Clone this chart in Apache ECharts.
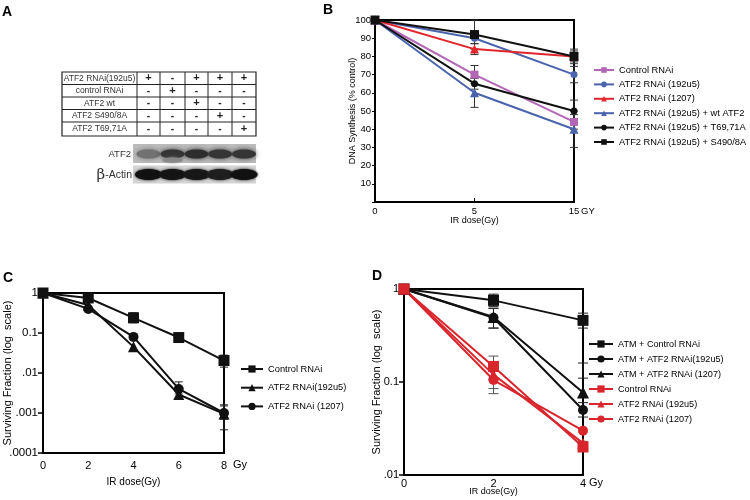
<!DOCTYPE html>
<html><head><meta charset="utf-8">
<script src="https://cdn.jsdelivr.net/npm/echarts@6/dist/echarts.min.js"></script>
<style>html,body{margin:0;padding:0;background:#fff;} .c{position:absolute;left:0;top:0;width:750px;height:500px;}</style>
</head><body>
<div id="pa" class="c"></div><div id="pb" class="c"></div><div id="pc" class="c"></div><div id="pd" class="c"></div>
<script>
// ---------- Panel A data ----------
const rowsA = ['ATF2 RNAi(192u5)', 'control RNAi', 'ATF2 wt', 'ATF2 S490/8A', 'ATF2 T69,71A'];
const signsA = [
  ['+','-','+','+','+'],
  ['-','+','-','-','-'],
  ['-','-','+','-','-'],
  ['-','-','-','+','-'],
  ['-','-','-','-','+']
];
const atf2Band = [0.45, 0.85, 0.9, 0.85, 0.85];
const actinBand = [0.95, 0.92, 0.9, 0.85, 0.95];

// ---------- Panel B data ----------
const xB = ['0', '5', '15'];
const bNames = ['Control RNAi', 'ATF2 RNAi (192u5)', 'ATF2 RNAi (1207)', 'ATF2 RNAi (192u5) + wt ATF2', 'ATF2 RNAi (192u5) + T69,71A', 'ATF2 RNAi (192u5) + S490/8A'];
const bControl = [100, 70, 44];
const b192u5 = [100, 90, 70];
const b1207 = [100, 84, 80];
const bWt = [100, 60, 40];
const bT69 = [100, 65, 50];
const bS490 = [100, 92, 80];
const bErrControl = [null, 5, 4];
const bErr192u5 = [null, 3, 4.5];
const bErr1207 = [null, 3, 3];
const bErrWt = [null, 8, 10];
const bErrT69 = [null, 3, 6];
const bErrS490 = [null, 8, 4];

// ---------- Panel C data ----------
const xC = [0, 2, 4, 6, 8];
const cNames = ['Control RNAi', 'ATF2 RNAi(192u5)', 'ATF2 RNAi (1207)'];
const cControl = [1, 0.75, 0.24, 0.077, 0.0205];
const c192u5 = [1, 0.5, 0.045, 0.0029, 0.00095];
const c1207 = [1, 0.4, 0.08, 0.004, 0.001];
const cLoControl = [null, 0.65, 0.18, 0.065, 0.014];
const cHiControl = [null, 0.85, 0.32, 0.09, 0.028];
const cLo192u5 = [null, null, null, 0.0022, 0.00038];
const cHi192u5 = [null, null, null, 0.0035, 0.0016];
const cLo1207 = [null, null, null, 0.003, 0.0007];
const cHi1207 = [null, null, null, 0.006, 0.0015];
const cTickLabels = {1: '1', 0.1: '0.1', 0.01: '.01', 0.001: '.001', 0.0001: '.0001'};

// ---------- Panel D data ----------
const xD = [0, 2, 4];
const dNames = ['ATM + Control RNAi', 'ATM + ATF2 RNAi(192u5)', 'ATM + ATF2 RNAi (1207)', 'Control RNAi', 'ATF2 RNAi (192u5)', 'ATF2 RNAi (1207)'];
const dAtmControl = [1, 0.755, 0.46];
const dAtm192u5 = [1, 0.49, 0.05];
const dAtm1207 = [1, 0.5, 0.077];
const dControl = [1, 0.147, 0.02];
const d192u5 = [1, 0.12, 0.022];
const d1207 = [1, 0.105, 0.03];
const dLoAtmControl = [null, 0.65, 0.38];
const dHiAtmControl = [null, 0.88, 0.55];
const dLoAtm192u5 = [null, 0.38, 0.042];
const dHiAtm192u5 = [null, 0.62, 0.06];
const dLoAtm1207 = [null, 0.38, 0.11];
const dHiAtm1207 = [null, 0.62, 0.16];
const dLoControl = [null, 0.11, 0.018];
const dHiControl = [null, 0.19, 0.023];
const dLo192u5 = [null, 0.085, null];
const dHi192u5 = [null, 0.14, null];
const dLo1207 = [null, 0.075, null];
const dHi1207 = [null, 0.13, null];
const dTickLabels = {1: '1', 0.1: '0.1', 0.01: '.01'};

const FONT = '"Liberation Sans", Arial, sans-serif';
const MAGENTA = '#b466b6', BLUE = '#4a63ad', RED = '#e0252b', BLACK = '#111';

function errBars(xs, lo, hi, color, cap) {
  const data = [];
  xs.forEach((x, i) => { if (lo[i] != null) data.push([x, lo[i], hi[i]]); });
  return {
    type: 'custom', silent: true, z: 1, encode: {x: 0, y: [1, 2]}, data,
    renderItem(params, api) {
      const a = api.coord([api.value(0), api.value(1)]);
      const b = api.coord([api.value(0), api.value(2)]);
      const s = {stroke: color, lineWidth: 1};
      return {type: 'group', children: [
        {type: 'line', shape: {x1: a[0], y1: a[1], x2: b[0], y2: b[1]}, style: s},
        {type: 'line', shape: {x1: a[0] - cap, y1: a[1], x2: a[0] + cap, y2: a[1]}, style: s},
        {type: 'line', shape: {x1: b[0] - cap, y1: b[1], x2: b[0] + cap, y2: b[1]}, style: s}
      ]};
    }
  };
}
function lineS(name, xs, ys, color, symbol, size) {
  return {
    type: 'line', name, data: xs.map((x, i) => [x, ys[i]]), z: 3,
    symbol, symbolSize: size, showSymbol: true,
    itemStyle: {color, borderWidth: 0}, lineStyle: {color, width: 2}, animation: false
  };
}
function letter(t, l, tp) {
  return {type: 'text', left: l, top: tp, style: {text: t, fontFamily: FONT, fontWeight: 'bold', fontSize: 14, fill: '#000'}};
}

// ---------- Panel A (graphic) ----------
const colX = [62, 137, 160, 185, 208, 232, 256];
const rowY = [72, 84.5, 97, 109.5, 122, 136];
const gA = [letter('A', 2, 5)];
gA.push({type: 'rect', shape: {x: colX[0], y: rowY[0], width: colX[6] - colX[0], height: rowY[5] - rowY[0]}, style: {fill: 'none', stroke: '#222', lineWidth: 1.2}});
for (let i = 1; i < 6; i++) gA.push({type: 'line', shape: {x1: colX[i], y1: rowY[0], x2: colX[i], y2: rowY[5]}, style: {stroke: '#222', lineWidth: 1}});
for (let j = 1; j < 5; j++) gA.push({type: 'line', shape: {x1: colX[0], y1: rowY[j], x2: colX[6], y2: rowY[j]}, style: {stroke: '#222', lineWidth: 1}});
rowsA.forEach((r, j) => {
  const cy = (rowY[j] + rowY[j + 1]) / 2;
  gA.push({type: 'text', x: (colX[0] + colX[1]) / 2, y: cy, style: {text: r, fontFamily: FONT, fontSize: 8.5, fill: '#333', align: 'center', verticalAlign: 'middle'}});
  signsA[j].forEach((s, i) => {
    gA.push({type: 'text', x: (colX[i + 1] + colX[i + 2]) / 2, y: cy, style: {text: s, fontFamily: FONT, fontSize: s === '+' ? 11 : 10, fontWeight: 'bold', fill: '#222', align: 'center', verticalAlign: 'middle'}});
  });
});
// blot backgrounds
gA.push({type: 'rect', shape: {x: 133, y: 144, width: 123, height: 19}, style: {fill: '#bcbcbc'}});
gA.push({type: 'rect', shape: {x: 133, y: 165.5, width: 123, height: 18}, style: {fill: '#d4d4d4'}});
atf2Band.forEach((v, i) => {
  const cx = (colX[i + 1] + colX[i + 2]) / 2;
  const g = Math.round(180 - v * 150);
  gA.push({type: 'ellipse', shape: {cx, cy: 154, rx: 12, ry: 4.5}, style: {fill: `rgb(${g},${g},${g})`, shadowBlur: 5, shadowColor: `rgb(${g},${g},${g})`}});
  if (i === 1) gA.push({type: 'ellipse', shape: {cx, cy: 160, rx: 10, ry: 2.5}, style: {fill: '#888', shadowBlur: 3, shadowColor: '#888'}});
});
actinBand.forEach((v, i) => {
  const cx = (colX[i + 1] + colX[i + 2]) / 2;
  const g = Math.round(140 - v * 130);
  gA.push({type: 'ellipse', shape: {cx, cy: 174.5, rx: 13.5, ry: 5.5}, style: {fill: `rgb(${g},${g},${g})`, shadowBlur: 3, shadowColor: `rgb(${g},${g},${g})`}});
});
gA.push({type: 'text', x: 131, y: 154, style: {text: 'ATF2', fontFamily: FONT, fontSize: 9.5, fill: '#333', align: 'right', verticalAlign: 'middle'}});
gA.push({type: 'text', x: 132, y: 175, style: {text: '{b|β}-Actin', rich: {b: {fontSize: 15, fontFamily: 'DejaVu Serif', fill: '#333'}}, fontFamily: FONT, fontSize: 10.5, fill: '#333', align: 'right', verticalAlign: 'middle'}});
echarts.init(document.getElementById('pa')).setOption({animation: false, graphic: gA});

// ---------- Panel B ----------
const axisLbl = {color: '#000', fontFamily: FONT, fontSize: 9.5};
const chartB = echarts.init(document.getElementById('pb'));
chartB.setOption({
  animation: false,
  graphic: [letter('B', 323, 3),
    {type: 'text', left: 581, top: 206, style: {text: 'GY', fontFamily: FONT, fontSize: 9.5, fill: '#000'}}],
  grid: {left: 375, top: 20, width: 199, height: 182, show: true, borderColor: '#000', borderWidth: 2, outerBoundsMode: 'none'},
  legend: {
    data: bNames, orient: 'vertical', left: 593, top: 64, padding: 0, itemWidth: 20, itemHeight: 7, itemGap: 2.4,
    textStyle: {fontFamily: FONT, fontSize: 9.3, color: '#000', lineHeight: 12}
  },
  xAxis: {
    type: 'category', data: xB, boundaryGap: false,
    axisLine: {lineStyle: {color: '#000', width: 2}},
    axisTick: {show: true, inside: true, length: 4, lineStyle: {color: '#000'}},
    axisLabel: Object.assign({margin: 4}, axisLbl),
    name: 'IR dose(Gy)', nameLocation: 'middle', nameGap: 14, nameMoveOverlap: false,
    nameTextStyle: {fontFamily: FONT, fontSize: 9, color: '#000'}
  },
  yAxis: {
    type: 'value', min: 0, max: 100, interval: 10,
    axisLine: {show: true, lineStyle: {color: '#000', width: 2}},
    axisTick: {show: true, length: 3, lineStyle: {color: '#000'}},
    splitLine: {show: false},
    axisLabel: Object.assign({margin: 4, formatter: v => v === 0 ? '' : String(v)}, axisLbl),
    name: 'DNA Synthesis (% control)', nameLocation: 'middle', nameGap: 18, nameRotate: 90, nameMoveOverlap: false,
    nameTextStyle: {fontFamily: FONT, fontSize: 9, color: '#000'}
  },
  series: [
    errBars(xB, bControl.map((v, i) => bErrControl[i] == null ? null : v - bErrControl[i]), bControl.map((v, i) => v + (bErrControl[i] || 0)), '#333', 4),
    errBars(xB, b192u5.map((v, i) => bErr192u5[i] == null ? null : v - bErr192u5[i]), b192u5.map((v, i) => v + (bErr192u5[i] || 0)), '#333', 4),
    errBars(xB, b1207.map((v, i) => bErr1207[i] == null ? null : v - bErr1207[i]), b1207.map((v, i) => v + (bErr1207[i] || 0)), '#333', 4),
    errBars(xB, bWt.map((v, i) => bErrWt[i] == null ? null : v - bErrWt[i]), bWt.map((v, i) => v + (bErrWt[i] || 0)), '#333', 4),
    errBars(xB, bT69.map((v, i) => bErrT69[i] == null ? null : v - bErrT69[i]), bT69.map((v, i) => v + (bErrT69[i] || 0)), '#333', 4),
    errBars(xB, bS490.map((v, i) => bErrS490[i] == null ? null : v - bErrS490[i]), bS490.map((v, i) => v + (bErrS490[i] || 0)), '#333', 4),
    lineS(bNames[0], xB, bControl, MAGENTA, 'rect', 8),
    lineS(bNames[1], xB, b192u5, BLUE, 'circle', 7),
    lineS(bNames[2], xB, b1207, RED, 'triangle', 9),
    lineS(bNames[3], xB, bWt, BLUE, 'triangle', 9),
    lineS(bNames[4], xB, bT69, BLACK, 'circle', 7),
    lineS(bNames[5], xB, bS490, BLACK, 'rect', 9)
  ]
});

// ---------- Panel C ----------
const chartC = echarts.init(document.getElementById('pc'));
chartC.setOption({
  animation: false,
  graphic: [letter('C', 3, 271),
    {type: 'text', left: 233, top: 459, style: {text: 'Gy', fontFamily: FONT, fontSize: 11, fill: '#000'}}],
  grid: {left: 43, top: 293, width: 181, height: 160, show: true, borderColor: '#000', borderWidth: 2, outerBoundsMode: 'none'},
  legend: {
    data: cNames, orient: 'vertical', left: 240, top: 363, padding: 0, itemWidth: 22, itemHeight: 9, itemGap: 6.7,
    textStyle: {fontFamily: FONT, fontSize: 9.3, color: '#000', lineHeight: 12}
  },
  xAxis: {
    type: 'value', min: 0, max: 8, interval: 2,
    axisLine: {lineStyle: {color: '#000', width: 2}},
    axisTick: {show: false}, splitLine: {show: false},
    axisLabel: {color: '#000', fontFamily: FONT, fontSize: 11, margin: 7},
    name: 'IR dose(Gy)', nameLocation: 'middle', nameGap: 24, nameMoveOverlap: false,
    nameTextStyle: {fontFamily: FONT, fontSize: 10, color: '#000'}
  },
  yAxis: {
    type: 'log', logBase: 10, min: 0.0001, max: 1,
    axisLine: {show: true, lineStyle: {color: '#000', width: 2}},
    axisTick: {show: true, length: 5, lineStyle: {color: '#000', width: 1.5}},
    minorTick: {show: false}, splitLine: {show: false},
    axisLabel: {color: '#000', fontFamily: FONT, fontSize: 11.5, margin: 5,
      formatter: v => cTickLabels[Number(v.toPrecision(3))] || ''},
    name: 'Surviving Fraction (log  scale)', nameLocation: 'middle', nameGap: 29.5, nameRotate: 90, nameMoveOverlap: false,
    nameTextStyle: {fontFamily: FONT, fontSize: 11, color: '#000'}
  },
  series: [
    errBars(xC, cLoControl, cHiControl, '#222', 4),
    errBars(xC, cLo192u5, cHi192u5, '#222', 4),
    errBars(xC, cLo1207, cHi1207, '#222', 4),
    lineS(cNames[0], xC, cControl, BLACK, 'rect', 11),
    lineS(cNames[1], xC, c192u5, BLACK, 'triangle', 11),
    lineS(cNames[2], xC, c1207, BLACK, 'circle', 10)
  ]
});

// ---------- Panel D ----------
const chartD = echarts.init(document.getElementById('pd'));
chartD.setOption({
  animation: false,
  graphic: [letter('D', 372, 269),
    {type: 'text', left: 589, top: 477, style: {text: 'Gy', fontFamily: FONT, fontSize: 11, fill: '#000'}}],
  grid: {left: 404, top: 289, width: 179, height: 186, show: true, borderColor: '#000', borderWidth: 2, outerBoundsMode: 'none'},
  legend: {
    data: dNames, orient: 'vertical', left: 588, top: 338, padding: 0, itemWidth: 24, itemHeight: 9, itemGap: 3,
    textStyle: {fontFamily: FONT, fontSize: 9.1, color: '#000', lineHeight: 12}
  },
  xAxis: {
    type: 'value', min: 0, max: 4, interval: 2,
    axisLine: {lineStyle: {color: '#000', width: 2}},
    axisTick: {show: false}, splitLine: {show: false},
    axisLabel: {color: '#000', fontFamily: FONT, fontSize: 11, margin: 3},
    name: 'IR dose(Gy)', nameLocation: 'middle', nameGap: 12, nameMoveOverlap: false,
    nameTextStyle: {fontFamily: FONT, fontSize: 9, color: '#000'}
  },
  yAxis: {
    type: 'log', logBase: 10, min: 0.01, max: 1,
    axisLine: {show: true, lineStyle: {color: '#000', width: 2}},
    axisTick: {show: true, length: 5, lineStyle: {color: '#000', width: 1.5}},
    minorTick: {show: false}, splitLine: {show: false},
    axisLabel: {color: '#000', fontFamily: FONT, fontSize: 11, margin: 5,
      formatter: v => dTickLabels[Number(v.toPrecision(3))] || ''},
    name: 'Surviving Fraction (log  scale)', nameLocation: 'middle', nameGap: 21.5, nameRotate: 90, nameMoveOverlap: false,
    nameTextStyle: {fontFamily: FONT, fontSize: 11, color: '#000'}
  },
  series: [
    errBars(xD, dLoAtmControl, dHiAtmControl, '#222', 5),
    errBars(xD, dLoAtm192u5, dHiAtm192u5, '#222', 5),
    errBars(xD, dLoAtm1207, dHiAtm1207, '#222', 5),
    errBars(xD, dLoControl, dHiControl, '#555', 5),
    errBars(xD, dLo192u5, dHi192u5, '#555', 5),
    errBars(xD, dLo1207, dHi1207, '#555', 5),
    lineS(dNames[0], xD, dAtmControl, BLACK, 'rect', 11),
    lineS(dNames[1], xD, dAtm192u5, BLACK, 'circle', 10),
    lineS(dNames[2], xD, dAtm1207, BLACK, 'triangle', 12),
    lineS(dNames[3], xD, dControl, '#d8262c', 'rect', 11),
    lineS(dNames[4], xD, d192u5, '#d8262c', 'triangle', 11),
    lineS(dNames[5], xD, d1207, '#d8262c', 'circle', 10)
  ]
});
</script>
</body></html>
